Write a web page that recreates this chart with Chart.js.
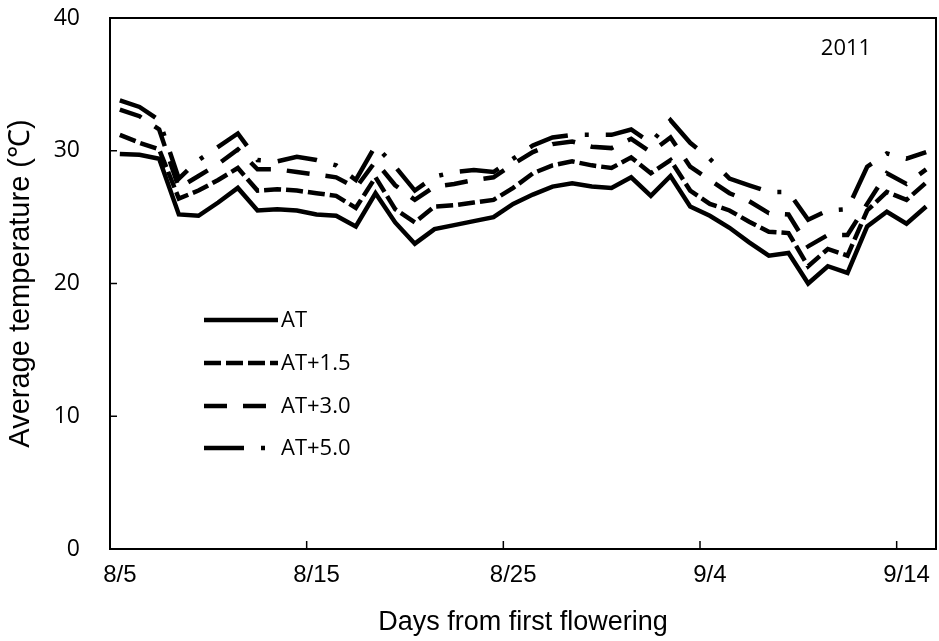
<!DOCTYPE html>
<html><head><meta charset="utf-8">
<script src="https://cdn.jsdelivr.net/npm/chart.js@4/dist/chart.umd.min.js"></script>
<style>html,body{margin:0;padding:0;background:#fff}</style>
</head><body>
<canvas id="c" width="939" height="641"></canvas>
<script>
const categories = ['8/5','8/6','8/7','8/8','8/9','8/10','8/11','8/12','8/13','8/14','8/15','8/16','8/17','8/18','8/19','8/20','8/21','8/22','8/23','8/24','8/25','8/26','8/27','8/28','8/29','8/30','8/31','9/1','9/2','9/3','9/4','9/5','9/6','9/7','9/8','9/9','9/10','9/11','9/12','9/13','9/14','9/15'];
const tickLabels = ['8/5','8/15','8/25','9/4','9/14'];
const yTicks = [0,10,20,30,40];
const seriesNames = ['AT','AT+1.5','AT+3.0','AT+5.0'];
const AT   = [29.75,29.7,29.4,25.2,25.1,26.1,27.2,25.5,25.6,25.5,25.2,25.1,24.3,26.8,24.6,23.0,24.1,24.4,24.7,25.0,26.0,26.7,27.3,27.55,27.3,27.2,28.0,26.6,28.1,25.8,25.1,24.2,23.1,22.1,22.3,20.0,21.3,20.8,24.3,25.4,24.5,25.8];
const AT15 = [31.2,30.6,30.1,26.4,27.0,27.8,28.7,27.0,27.1,27.0,26.8,26.6,25.7,28.0,25.6,24.6,25.8,25.9,26.1,26.3,27.2,28.3,28.9,29.2,28.9,28.7,29.5,28.3,29.3,27.0,26.0,25.5,24.65,23.9,23.8,21.3,22.6,22.1,25.5,26.9,26.3,27.6];
const AT30 = [33.1,32.6,31.6,27.2,28.1,29.0,30.1,28.6,28.6,28.4,28.2,28.0,27.2,29.2,27.4,26.3,27.3,27.5,27.8,28.0,29.0,29.9,30.5,30.7,30.3,30.2,30.9,29.9,31.0,28.8,27.8,26.8,26.2,25.3,25.2,22.8,23.65,23.65,26.0,28.3,27.5,28.6];
const AT50 = [33.8,33.3,32.3,27.9,29.3,30.3,31.3,29.3,29.2,29.55,29.3,28.9,27.8,30.4,28.8,27.0,28.05,28.4,28.55,28.4,29.4,30.4,31.0,31.2,31.2,31.2,31.6,30.6,32.3,30.6,29.4,27.9,27.4,26.9,26.9,24.8,25.5,25.6,28.8,29.8,29.4,29.9];

const dashes = [[], [17,5], [23,16], [40,17,4,17]];
const allSeries = [AT, AT15, AT30, AT50];

const framePlugin = {
  id: 'frame',
  afterDraw(chart) {
    const {ctx, chartArea: a, scales: {x, y}} = chart;
    ctx.save();
    ctx.strokeStyle = '#000';
    ctx.lineWidth = 2;
    ctx.strokeRect(a.left, a.top, a.right - a.left, a.bottom - a.top);
    ctx.lineWidth = 1.5;
    yTicks.forEach(v => {
      const py = y.getPixelForValue(v);
      ctx.beginPath(); ctx.moveTo(a.left, py); ctx.lineTo(a.left + 7, py); ctx.stroke();
    });
    const half = (x.getPixelForValue(1) - x.getPixelForValue(0)) / 2;
    categories.forEach((c, i) => {
      if (tickLabels.includes(c)) {
        const px = x.getPixelForValue(i) - half;
        ctx.beginPath(); ctx.moveTo(px, a.bottom); ctx.lineTo(px, a.bottom - 8); ctx.stroke();
      }
    });
    ctx.fillStyle = '#000';
    ctx.font = '22px "Open Sans"';
    ctx.textAlign = 'center';
    ctx.textBaseline = 'middle';
    ctx.fillText('2011', 846, 49);
    const rows = [320, 363, 406, 448];
    ctx.textAlign = 'left';
    ctx.font = '22px "Open Sans"';
    seriesNames.forEach((n, i) => {
      ctx.save();
      ctx.lineWidth = 4.5;
      ctx.setLineDash(dashes[i]);
      ctx.beginPath(); ctx.moveTo(204, rows[i]); ctx.lineTo(278, rows[i]); ctx.stroke();
      ctx.restore();
      ctx.fillText(n, 281, rows[i] + 1);
    });
    ctx.restore();
  }
};

new Chart(document.getElementById('c'), {
  type: 'line',
  data: {
    labels: categories,
    datasets: allSeries.map((d, i) => ({
      label: seriesNames[i],
      data: d,
      borderColor: '#000',
      borderWidth: 4.5,
      borderDash: dashes[i],
      pointRadius: 0,
      tension: 0,
      fill: false
    }))
  },
  options: {
    responsive: false,
    animation: false,
    layout: {padding: {top: 18, right: 3, left: 0, bottom: 0}},
    plugins: {legend: {display: false}, tooltip: {enabled: false}},
    scales: {
      x: {
        type: 'category',
        offset: true,
        grid: {display: false, drawTicks: false},
        border: {display: false},
        ticks: {
          autoSkip: false, maxRotation: 0, minRotation: 0, padding: 12,
          color: '#000', font: {family: 'Liberation Sans', size: 24},
          callback: (v, i) => tickLabels.includes(categories[i]) ? categories[i] : ''
        },
        title: {display: true, text: 'Days from first flowering', color: '#000',
          font: {family: 'Liberation Sans', size: 27}, padding: {top: 0, bottom: 2}},
        afterFit: s => { s.height = 92; s.paddingLeft = 0; s.paddingRight = 0; }
      },
      y: {
        min: 0, max: 40,
        grid: {display: false, drawTicks: false},
        border: {display: false},
        ticks: {stepSize: 10, padding: 30, color: '#000', font: {family: 'Open Sans', size: 23}},
        title: {display: true, text: 'Average temperature (℃)', color: '#000',
          font: {family: 'Liberation Sans', size: 29}, padding: {top: 4, bottom: 0}},
        afterFit: s => { s.width = 110; s.paddingTop = 0; s.paddingBottom = 0; }
      }
    }
  },
  plugins: [framePlugin]
});
</script>
</body></html>
